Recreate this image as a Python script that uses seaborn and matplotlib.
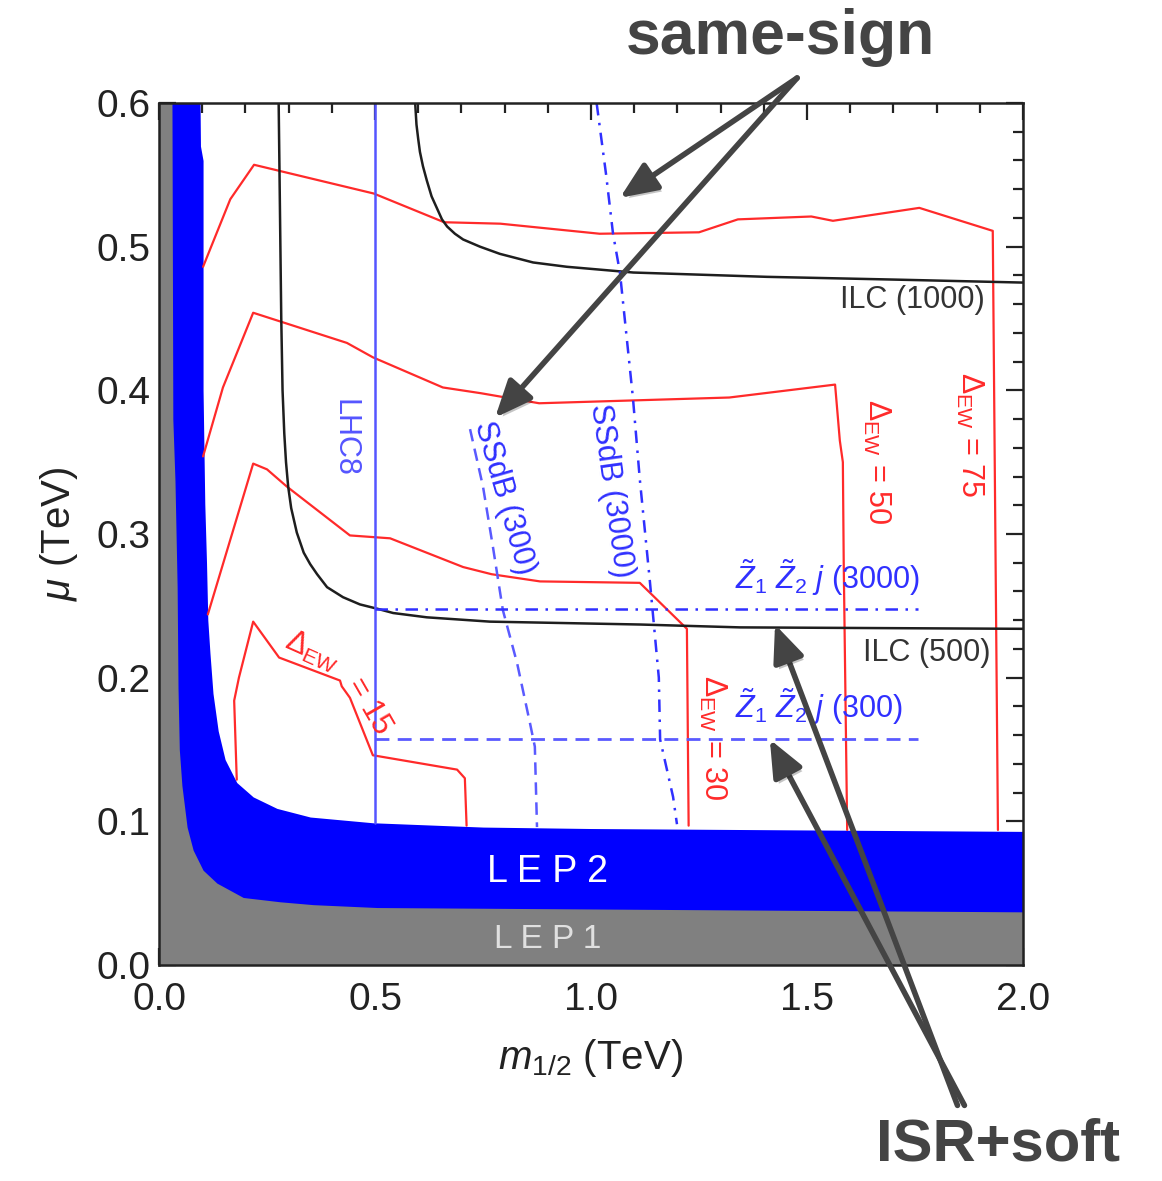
import matplotlib
matplotlib.use("Agg")
import matplotlib.pyplot as plt
import matplotlib.patheffects as pe
from matplotlib.ticker import MultipleLocator
import seaborn as sns

sns.set_style("ticks")
plt.rcParams["font.family"] = ["Liberation Sans", "DejaVu Sans"]
plt.rcParams["mathtext.fontset"] = "custom"
plt.rcParams["mathtext.rm"] = "Liberation Sans"
plt.rcParams["mathtext.it"] = "Liberation Sans:italic"
plt.rcParams["mathtext.bf"] = "Liberation Sans:bold"

# ---- excluded regions (m1/2 in TeV, mu in TeV) ----
lep1_m = [0.0, 0.030, 0.032, 0.037, 0.042, 0.044, 0.047, 0.053, 0.065, 0.079, 0.102, 0.134, 0.195,
          0.280, 0.357, 0.505, 1.0, 2.0]
lep1_mu = [0.60, 0.60, 0.38, 0.337, 0.263, 0.193, 0.150, 0.125, 0.096, 0.080, 0.066, 0.057, 0.047,
           0.044, 0.042, 0.040, 0.039, 0.037]

lep2_m = [0.0, 0.095, 0.096, 0.102, 0.102, 0.106, 0.110, 0.113, 0.118, 0.125, 0.137, 0.153, 0.180,
          0.218, 0.273, 0.350, 0.495, 0.750, 1.0, 2.0]
lep2_mu = [0.60, 0.60, 0.57, 0.56, 0.40, 0.321, 0.280, 0.240, 0.217, 0.189, 0.163, 0.143, 0.127,
           0.117, 0.109, 0.103, 0.099, 0.096, 0.095, 0.093]

# ---- Delta_EW contours ----
dew75_m = [0.102, 0.165, 0.220, 0.497, 0.660, 0.790, 1.020, 1.250, 1.340, 1.510, 1.560, 1.760, 1.930, 1.936, 1.942]
dew75_mu = [0.486, 0.533, 0.557, 0.537, 0.517, 0.516, 0.509, 0.510, 0.519, 0.521, 0.518, 0.527, 0.511, 0.300, 0.094]

dew50_m = [0.102, 0.148, 0.218, 0.435, 0.495, 0.657, 0.745, 0.880, 1.320, 1.565, 1.576, 1.583, 1.585, 1.593]
dew50_mu = [0.354, 0.402, 0.454, 0.433, 0.423, 0.402, 0.398, 0.391, 0.395, 0.404, 0.365, 0.350, 0.280, 0.094]

dew30_m = [0.113, 0.218, 0.250, 0.296, 0.442, 0.535, 0.704, 0.770, 0.882, 1.113, 1.222, 1.226]
dew30_mu = [0.244, 0.349, 0.345, 0.333, 0.299, 0.297, 0.277, 0.272, 0.267, 0.266, 0.234, 0.097]

dew15_m = [0.180, 0.174, 0.185, 0.218, 0.278, 0.419, 0.423, 0.442, 0.495, 0.690, 0.708, 0.712]
dew15_mu = [0.129, 0.184, 0.200, 0.239, 0.214, 0.198, 0.194, 0.186, 0.146, 0.136, 0.130, 0.097]

# ---- ILC reach ----
ilc500_m = [0.277, 0.279, 0.281, 0.283, 0.286, 0.290, 0.294, 0.299, 0.306, 0.319, 0.335, 0.350, 0.366,
            0.389, 0.426, 0.465, 0.505, 0.542, 0.620, 0.766, 1.113, 1.345, 2.0]
ilc500_mu = [0.600, 0.550, 0.500, 0.450, 0.400, 0.370, 0.350, 0.333, 0.318, 0.301, 0.287, 0.279, 0.272,
             0.263, 0.256, 0.251, 0.248, 0.245, 0.242, 0.239, 0.237, 0.235, 0.234]

ilc1000_m = [0.593, 0.596, 0.600, 0.604, 0.611, 0.620, 0.631, 0.643, 0.655, 0.667, 0.685, 0.704, 0.743,
             0.789, 0.866, 0.944, 1.098, 1.407, 1.715, 2.0]
ilc1000_mu = [0.600, 0.585, 0.575, 0.566, 0.556, 0.546, 0.535, 0.527, 0.519, 0.514, 0.509, 0.505, 0.500,
              0.495, 0.489, 0.486, 0.482, 0.479, 0.477, 0.475]

# ---- LHC reach ----
lhc8_m = [0.5, 0.5]
lhc8_mu = [0.099, 0.600]

ssdb300_m = [0.720, 0.750, 0.773, 0.796, 0.829, 0.859, 0.870, 0.875]
ssdb300_mu = [0.373, 0.333, 0.291, 0.247, 0.210, 0.168, 0.152, 0.096]

ssdb3000_m = [1.013, 1.035, 1.051, 1.067, 1.097, 1.113, 1.136, 1.157, 1.160, 1.190, 1.199]
ssdb3000_mu = [0.600, 0.550, 0.509, 0.482, 0.395, 0.338, 0.268, 0.200, 0.157, 0.117, 0.098]

zzj3000_m = [0.50, 1.757]
zzj3000_mu = [0.248, 0.248]
zzj300_m = [0.50, 1.757]
zzj300_mu = [0.157, 0.157]

RED = "#ff2a2a"
BLUE_DD = "#3030ff"
BLUE_D = "#5a5aff"
BLUE_S = "#5555ff"
BLACK = "#1e1e1e"

fig = plt.figure(figsize=(11.62, 11.81), dpi=100)
ax = fig.add_axes([159 / 1162, (1181 - 965) / 1181, (1023 - 159) / 1162, (965 - 103) / 1181])

ax.fill_between(lep2_m, 0, lep2_mu, color="#0000ff", lw=0, zorder=1)
ax.fill_between(lep1_m, 0, lep1_mu, color="#808080", lw=0, zorder=2)


def curve(xs, ys, color, lw=1.6, ls="-"):
    sns.lineplot(x=xs, y=ys, sort=False, estimator=None, color=color, lw=lw,
                 linestyle=ls, ax=ax, zorder=3)


curve(dew75_m, dew75_mu, RED)
curve(dew50_m, dew50_mu, RED)
curve(dew30_m, dew30_mu, RED)
curve(dew15_m, dew15_mu, RED)
curve(ilc500_m, ilc500_mu, BLACK, lw=1.8)
curve(ilc1000_m, ilc1000_mu, BLACK, lw=1.8)
curve(lhc8_m, lhc8_mu, BLUE_S, lw=1.8)
curve(ssdb300_m, ssdb300_mu, BLUE_D, lw=1.8, ls=(0, (5, 3)))
curve(ssdb3000_m, ssdb3000_mu, BLUE_DD, lw=1.8, ls=(0, (5, 3, 1, 3)))
curve(zzj3000_m, zzj3000_mu, BLUE_DD, lw=1.8, ls=(0, (5, 3, 1, 3)))
curve(zzj300_m, zzj300_mu, BLUE_D, lw=2.0, ls=(0, (5, 3)))

ax.set_xlim(0, 2.0)
ax.set_ylim(0, 0.6)
ax.xaxis.set_major_locator(MultipleLocator(0.5))
ax.xaxis.set_minor_locator(MultipleLocator(0.1))
ax.yaxis.set_major_locator(MultipleLocator(0.1))
ax.yaxis.set_minor_locator(MultipleLocator(0.02))
ax.tick_params(which="both", direction="in", top=True, right=True, width=1.6,
               colors="#222222", labelsize=28)
ax.tick_params(which="major", length=12)
ax.tick_params(which="minor", length=7)
ax.tick_params(axis="x", pad=12)
ax.tick_params(axis="y", pad=6)
for s in ax.spines.values():
    s.set_linewidth(1.8)
    s.set_color("#222222")
    s.set_zorder(5)

ax.set_xlabel(r"$m_{1/2}$ (TeV)", fontsize=29, color="#222222", labelpad=14)
ax.set_ylabel(r"$\mu$ (TeV)", fontsize=29, color="#222222", labelpad=12)

lab = dict(fontsize=22, zorder=4)
ax.text(0.43, 0.367, "LHC8", color=BLUE_S, rotation=-90, ha="center", va="center", **lab)
ax.text(0.80, 0.325, "SSdB (300)", color=BLUE_DD, rotation=-74, ha="center", va="center", **lab)
ax.text(1.047, 0.33, "SSdB (3000)", color=BLUE_DD, rotation=-82, ha="center", va="center", **lab)
ax.text(1.66, 0.35, r"$\Delta_{\rm EW}$ = 50", color=RED, rotation=-90, ha="center", va="center", **lab)
ax.text(1.877, 0.369, r"$\Delta_{\rm EW}$ = 75", color=RED, rotation=-90, ha="center", va="center", **lab)
ax.text(1.282, 0.158, r"$\Delta_{\rm EW}$ = 30", color=RED, rotation=-90, ha="center", va="center", **lab)
ax.text(0.356, 0.218, r"$\Delta_{\rm EW}$", color=RED, rotation=-24, ha="center", va="center", **lab)
ax.text(0.487, 0.180, "= 15", color=RED, rotation=-60, ha="center", va="center", **lab)
ax.text(1.333, 0.27, r"$\tilde{Z}_1\ \tilde{Z}_2\ j$ (3000)", color=BLUE_DD, ha="left", va="center", **lab)
ax.text(1.333, 0.18, r"$\tilde{Z}_1\ \tilde{Z}_2\ j$ (300)", color=BLUE_DD, ha="left", va="center", **lab)
ax.text(1.912, 0.463, "ILC (1000)", color="#333333", ha="right", va="center", **lab)
ax.text(1.924, 0.217, "ILC (500)", color="#333333", ha="right", va="center", **lab)
ax.text(0.90, 0.065, "L E P 2", color="white", fontsize=27, ha="center", va="center", zorder=4)
ax.text(0.90, 0.018, "L E P 1", color="#e0e0e0", fontsize=24, ha="center", va="center", zorder=4)

# call-outs
fig.text(0.672, 0.968, "same-sign", fontsize=45, fontweight="bold", color="#444444",
         ha="center", va="center")
fig.text(0.859, 0.017, "ISR+soft", fontsize=43, fontweight="bold", color="#444444",
         ha="center", va="baseline")

shadow = [pe.SimplePatchShadow(offset=(2, -3), alpha=0.25), pe.Normal()]
arrow = dict(arrowstyle="-|>,head_length=0.75,head_width=0.32", lw=4, color="#444444",
             mutation_scale=30, shrinkA=0, shrinkB=0, path_effects=shadow)
for tx, ty, hx, hy in [(0.686, 0.934, 1.067, 0.534), (0.686, 0.934, 0.778, 0.381),
                       (0.824, 0.064, 1.426, 0.237), (0.830, 0.064, 1.414, 0.157)]:
    ax.annotate("", xy=(hx, hy), xycoords="data", xytext=(tx, ty), textcoords="figure fraction",
                arrowprops=arrow, annotation_clip=False, zorder=6)

fig.savefig("out.png", dpi=100)
